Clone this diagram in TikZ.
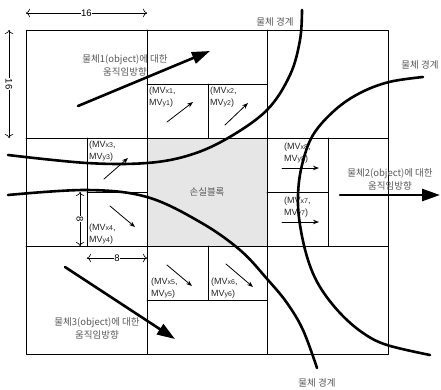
\documentclass[tikz,border=0pt]{standalone}
\usepackage{fontspec}
\setmainfont{Liberation Sans}
\newfontfamily\kr{Noto Sans CJK KR}
\usetikzlibrary{arrows.meta}
\definecolor{lossgray}{HTML}{E6E6E6}
\definecolor{labelgray}{HTML}{5A5A5A}
\newcommand{\subxy}[1]{{\fontsize{7}{12}\selectfont #1}}
\newcommand{\mvxy}[1]{(MV\subxy{x#1},\\MV\subxy{y#1})}
\tikzset{
	gridline/.style={line width=0.8pt},
	boundary/.style={line width=2.6pt, smooth, tension=0.6},
	motion/.style={line width=2.6pt, -{Triangle[length=18pt,width=12pt]}},
	mvarrow/.style={line width=0.8pt, ->},
	mvlabel/.style={font=\fontsize{9}{12}\selectfont, align=left, inner sep=1pt, text=black!85},
	korlabel/.style={font=\kr\fontsize{9.5}{13}\selectfont, align=center, text=labelgray, inner sep=0pt},
	dimarrow/.style={line width=0.6pt, {To[length=4pt]}-{To[length=4pt]}},
	dimlabel/.style={fill=white, inner sep=0.6pt, font=\fontsize{9.5}{10}\selectfont}
}
\begin{document}
\begin{tikzpicture}[x=1pt, y=-1pt, >={Stealth[length=6pt,width=4.5pt]}, line join=round, line cap=round]
	\def\xa{26} \def\xb{147} \def\xc{267} \def\xd{388} % columns
	\def\ya{30} \def\yb{138} \def\yc{246} \def\yd{354} % rows
	\useasboundingbox (0,0) rectangle (441,389);
	\fill[lossgray] (\xb,\yb) rectangle (\xc,\yc);
	\draw[gridline] (\xa,\ya) rectangle (\xd,\yd);
	\draw[gridline] (\xb,\ya)--(\xb,\yd) (\xc,\ya)--(\xc,\yd) (\xa,\yb)--(\xd,\yb) (\xa,\yc)--(\xd,\yc);
	% sub-blocks
	\draw[gridline] (\xb,84)--(\xc,84) (208,84)--(208,\yb);
	\draw[gridline] (87,\yb)--(87,\yc) (87,192)--(\xb,192);
	\draw[gridline] (328,\yb)--(328,\yc) (\xc,192)--(328,192);
	\draw[gridline] (\xb,300)--(\xc,300) (208,\yc)--(208,300);
	% sizes
	\draw[dimarrow] (\xa,13) -- node[dimlabel] (dimw) {16} (\xb,13);
	\draw[dimarrow] (9,\ya) -- node[dimlabel, rotate=-90] (dimh) {16} (9,\yb);
	\draw[dimarrow] (80,192) -- node[dimlabel, rotate=-90] (dimhs) {8} (80,\yc);
	\draw[dimarrow] (87,258) -- node[dimlabel] (dimws) {8} (\xb,258);
	% motion vectors
	\node[mvlabel, anchor=north west] (mv1) at (148,85.5) {\mvxy{1}};
	\node[mvlabel, anchor=north west] (mv2) at (209,85.5) {\mvxy{2}};
	\node[mvlabel, anchor=north west] (mv3) at (88,139.5) {\mvxy{3}};
	\node[mvlabel, anchor=south west] (mv4) at (88,246) {\mvxy{4}};
	\node[mvlabel, anchor=south west] (mv5) at (150,300) {\mvxy{5}};
	\node[mvlabel, anchor=south west] (mv6) at (210,300) {\mvxy{6}};
	\node[mvlabel, anchor=north west] (mv7) at (283,195.5) {\mvxy{7}};
	\node[mvlabel, anchor=north west] (mv8) at (283,141.5) {\mvxy{8}};
	\foreach \n/\sx/\sy/\ex/\ey in {1/167/122/193/102, 2/225/125/248/103, 3/104/179/128/158, 4/110/206/135/227,
		5/167/265/192/286, 6/226/264/253/287, 7/282/222/319/222, 8/282/168/319/168}{
		\coordinate (vs\n) at (\sx,\sy);
		\coordinate (ve\n) at (\ex,\ey);
		\draw[mvarrow] (vs\n) -- (ve\n);
	}
	\node[korlabel] (loss) at (207,192) {손실블록};
	\node[korlabel] (obj1) at (125,65.5) {물체1(object)에 대한\\움직임방향};
	\node[korlabel] (obj2) at (390,179.5) {물체2(object)에 대한\\움직임방향};
	\node[korlabel] (obj3) at (97,328.5) {물체3(object)에 대한\\움직임방향};
	\node[korlabel] (edge1) at (275,22) {물체 경계};
	\node[korlabel] (edge2) at (420,65) {물체 경계};
	\node[korlabel] (edge3) at (317,383) {물체 경계};
	% object boundaries
	\draw[boundary] plot coordinates {(8,155) (87,163) (147,163) (190,155) (228,138) (267,110) (290,75) (300,40) (302,10)};
	\draw[boundary] plot coordinates {(423,77) (389,82) (360,93) (335,110) (313,135) (302,165) (298,195) (300,225) (308,260) (320,287) (340,313) (363,333) (387,345) (430,355)};
	\draw[boundary] plot coordinates {(8,195) (87,190) (147,197) (200,222) (240,250) (268,280) (287,303) (303,330) (317,368)};
	% object motion
	\foreach \n/\sx/\sy/\ex/\ey in {1/78/106/210/51, 2/340/195/440/195, 3/65/267/175/339}{
		\coordinate (ms\n) at (\sx,\sy);
		\coordinate (me\n) at (\ex,\ey);
		\draw[motion] (ms\n) -- (me\n);
	}
\end{tikzpicture}
\end{document}
